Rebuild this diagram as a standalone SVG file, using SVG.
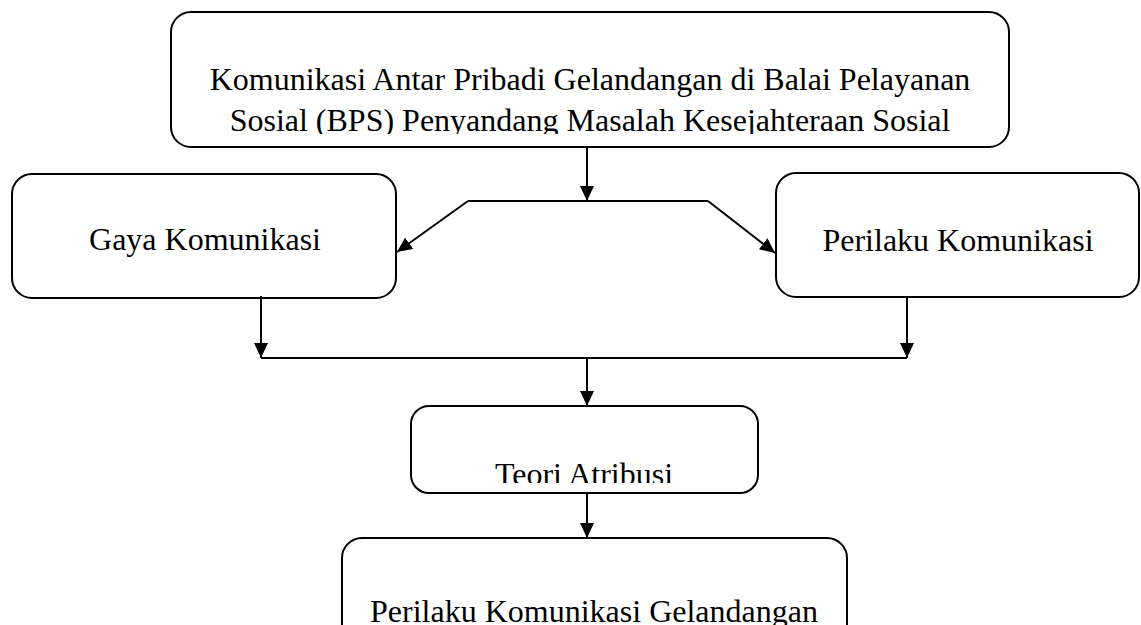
<svg xmlns="http://www.w3.org/2000/svg" width="1141" height="625" viewBox="0 0 1141 625">
<style>
.box{fill:#fff;stroke:#000;stroke-width:2}
.lbl{font-family:"Liberation Serif","Times New Roman",serif;font-size:32px;fill:#000;text-anchor:middle}
.con{fill:none;stroke:#000;stroke-width:2}
</style>
<defs>
<marker id="ah" markerUnits="userSpaceOnUse" markerWidth="15" markerHeight="14" refX="15" refY="7" orient="auto" viewBox="0 0 15 14">
<path d="M0,0 L15,7 L0,14 z" fill="#000"/>
</marker>
<clipPath id="c1"><rect x="171" y="12" width="838" height="122"/></clipPath>
<clipPath id="c2"><rect x="411" y="406" width="347" height="77"/></clipPath>
</defs>
<g id="node-top">
<rect class="box" x="171" y="12" width="838" height="135" rx="20"/>
<g clip-path="url(#c1)">
<text class="lbl" x="590" y="90">Komunikasi Antar Pribadi Gelandangan di Balai Pelayanan</text>
<text class="lbl" x="590" y="131">Sosial (BPS) Penyandang Masalah Kesejahteraan Sosial</text>
</g>
</g>
<g id="node-gaya">
<rect class="box" x="12" y="174" width="384" height="124" rx="20"/>
<text class="lbl" x="205" y="250">Gaya Komunikasi</text>
</g>
<g id="node-perilaku">
<rect class="box" x="776" y="173" width="363" height="124" rx="20"/>
<text class="lbl" x="958" y="251">Perilaku Komunikasi</text>
</g>
<g id="node-teori">
<rect class="box" x="411" y="406" width="347" height="87" rx="18"/>
<g clip-path="url(#c2)">
<text class="lbl" x="584" y="485">Teori Atribusi</text>
</g>
</g>
<g id="node-bottom">
<rect class="box" x="342" y="538" width="505" height="110" rx="20"/>
<text class="lbl" x="594" y="622">Perilaku Komunikasi Gelandangan</text>
</g>
<g id="connectors">
<line class="con" x1="587" y1="147" x2="587" y2="201" marker-end="url(#ah)"/>
<line class="con" x1="468" y1="201" x2="708" y2="201"/>
<line class="con" x1="468" y1="201" x2="397" y2="252" marker-end="url(#ah)"/>
<line class="con" x1="708" y1="201" x2="775" y2="253" marker-end="url(#ah)"/>
<line class="con" x1="261" y1="296" x2="261" y2="358" marker-end="url(#ah)"/>
<line class="con" x1="907" y1="297" x2="907" y2="358" marker-end="url(#ah)"/>
<line class="con" x1="261" y1="358" x2="907" y2="358"/>
<line class="con" x1="587" y1="358" x2="587" y2="406" marker-end="url(#ah)"/>
<line class="con" x1="587" y1="493" x2="587" y2="538" marker-end="url(#ah)"/>
</g>
</svg>
